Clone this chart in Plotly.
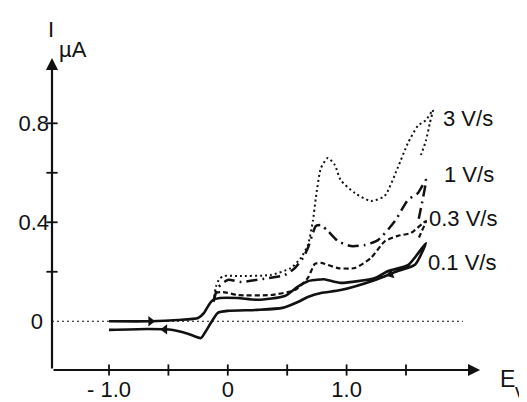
import plotly.graph_objects as go

# ---- data ----
E_3 = [-0.12, -0.10, -0.07, -0.03, 0.08, 0.36, 0.53, 0.615, 0.674, 0.716, 0.741, 0.784, 0.842, 0.90, 0.95,
       1.07, 1.205, 1.32, 1.43, 1.516, 1.60, 1.668, 1.727, 1.70, 1.668, 1.626]
I_3 = [0.08, 0.14, 0.172, 0.183, 0.183, 0.187, 0.215, 0.256, 0.308, 0.405, 0.498, 0.619, 0.66, 0.632, 0.571,
       0.518, 0.486, 0.506, 0.62, 0.72, 0.79, 0.813, 0.854, 0.80, 0.73, 0.672]

E_1 = [-0.12, -0.084, 0.0, 0.11, 0.295, 0.48, 0.564, 0.632, 0.674, 0.716, 0.741, 0.784, 0.842, 0.927, 1.036,
       1.154, 1.264, 1.407, 1.516, 1.60, 1.668, 1.643, 1.60]
I_1 = [0.08, 0.135, 0.167, 0.159, 0.171, 0.187, 0.215, 0.256, 0.296, 0.357, 0.385, 0.389, 0.365, 0.324, 0.304,
       0.308, 0.328, 0.405, 0.49, 0.518, 0.571, 0.498, 0.397]

E_03 = [-0.12, -0.10, -0.04, 0.084, 0.36, 0.564, 0.674, 0.733, 0.784, 0.927, 1.07, 1.205, 1.323, 1.432, 1.542,
        1.668, 1.626, 1.60]
I_03 = [0.08, 0.114, 0.118, 0.106, 0.106, 0.126, 0.175, 0.232, 0.236, 0.215, 0.215, 0.256, 0.324, 0.345, 0.357,
        0.405, 0.357, 0.328]

E_01 = [-1.0, -0.65, -0.42, -0.25, -0.2, -0.16, -0.126, -0.067, 0.084, 0.25, 0.48, 0.59, 0.674, 0.74, 0.81, 0.95,
        1.24, 1.35, 1.52, 1.668, 1.575, 1.43, 1.24, 0.95, 0.784, 0.674, 0.59, 0.46, 0.25, 0.0, -0.084, -0.143,
        -0.194, -0.227, -0.337, -0.463, -0.674, -1.0]
I_01 = [0.0, 0.0, 0.005, 0.013, 0.034, 0.066, 0.086, 0.094, 0.094, 0.087, 0.102, 0.14, 0.162, 0.167, 0.17, 0.155,
        0.175, 0.203, 0.228, 0.316, 0.228, 0.203, 0.167, 0.126, 0.114, 0.098, 0.078, 0.054, 0.046, 0.042, 0.034,
        -0.007, -0.047, -0.068, -0.05, -0.035, -0.031, -0.035]

arrow_E = [-0.65, -0.53, 1.37]
arrow_I = [0.0, -0.033, 0.19]
arrow_symbol = ["triangle-right", "triangle-left", "triangle-left"]
arrow_angle = [0, 0, -20]

series_labels = ["3 V/s", "1 V/s", "0.3 V/s", "0.1 V/s"]

x_ticks = [-1.0, -0.5, 0.0, 0.5, 1.0, 1.5]
x_ticklabels_vals = [-1.0, 0.0, 1.0]
x_ticklabels = ["- 1.0", "0", "1.0"]
y_ticks = [0.2, 0.4, 0.6, 0.8]
y_ticklabels_vals = [0.0, 0.4, 0.8]
y_ticklabels = ["0\u00a0", "0.4", "0.8"]

zero_E = [-1.48, 1.98]
zero_I = [0.0, 0.0]

# ---- figure ----
W, H = 527, 402
XMIN, XMAX = -1.48, 2.586
YMIN, YMAX = -0.197, 1.266
FONT = "Liberation Sans, Arial, sans-serif"
BLACK = "#111111"

fig = go.Figure()

fig.add_trace(go.Scatter(x=zero_E, y=zero_I, mode="lines",
                         line=dict(color=BLACK, width=1, dash="2px,3px"), hoverinfo="skip"))

fig.add_trace(go.Scatter(x=E_3, y=I_3, mode="lines", name=series_labels[0],
                         line=dict(color=BLACK, width=2, dash="2px,3px", shape="spline", smoothing=0.6)))
fig.add_trace(go.Scatter(x=E_1, y=I_1, mode="lines", name=series_labels[1],
                         line=dict(color=BLACK, width=2.5, dash="11px,5px,2px,5px", shape="spline", smoothing=0.6)))
fig.add_trace(go.Scatter(x=E_03, y=I_03, mode="lines", name=series_labels[2],
                         line=dict(color=BLACK, width=2.2, dash="5px,3px", shape="spline", smoothing=0.6)))
fig.add_trace(go.Scatter(x=E_01, y=I_01, mode="lines", name=series_labels[3],
                         line=dict(color=BLACK, width=2.6, shape="spline", smoothing=0.6)))

fig.add_trace(go.Scatter(x=arrow_E, y=arrow_I, mode="markers",
                         marker=dict(symbol=arrow_symbol, angle=arrow_angle, size=9, color=BLACK),
                         hoverinfo="skip"))

# tick marks crossing the axes
fig.add_trace(go.Scatter(x=x_ticks, y=[YMIN] * len(x_ticks), mode="markers", cliponaxis=False,
                         marker=dict(symbol="line-ns", size=8, line=dict(color=BLACK, width=1.8)),
                         hoverinfo="skip"))
fig.add_trace(go.Scatter(x=[XMIN] * len(y_ticks), y=y_ticks, mode="markers", cliponaxis=False,
                         marker=dict(symbol="line-ew", size=8, line=dict(color=BLACK, width=1.8)),
                         hoverinfo="skip"))

annotations = []
# axis lines with arrow heads
annotations.append(dict(x=2.124, y=YMIN, ax=XMIN, ay=YMIN, xref="x", yref="y", axref="x", ayref="y",
                        text="", showarrow=True, arrowhead=2, arrowsize=1.1, arrowwidth=2.2, arrowcolor=BLACK))
annotations.append(dict(x=XMIN, y=1.064, ax=XMIN, ay=YMIN, xref="x", yref="y", axref="x", ayref="y",
                        text="", showarrow=True, arrowhead=2, arrowsize=1.1, arrowwidth=2.2, arrowcolor=BLACK))

# series labels
label_pos = [(2.02, 0.82), (2.03, 0.595), (1.98, 0.417), (1.975, 0.236)]
for txt, (lx, ly) in zip(series_labels, label_pos):
    annotations.append(dict(x=lx, y=ly, xref="x", yref="y", text=txt, showarrow=False,
                            font=dict(family=FONT, size=22, color=BLACK)))


def paper(px, py):
    return px / W, 1 - py / H


# axis titles (positioned in paper pixels)
for txt, (px, py), sz in [("I", (43, 21), 22), ("µA", (65, 42), 22), ("E", (499, 371), 23), ("v", (512, 383), 20)]:
    xp, yp = paper(px, py)
    annotations.append(dict(x=xp, y=yp, xref="paper", yref="paper", text=txt, showarrow=False,
                            xanchor="center", yanchor="middle", borderpad=0,
                            font=dict(family=FONT, size=sz, color=BLACK)))

fig.update_layout(
    width=W, height=H,
    margin=dict(l=0, r=0, t=0, b=0),
    paper_bgcolor="white", plot_bgcolor="white",
    showlegend=False,
    annotations=annotations,
    xaxis=dict(domain=[44 / W, 1], range=[XMIN, XMAX], showgrid=False, zeroline=False, showline=False,
               tickmode="array", tickvals=x_ticklabels_vals, ticktext=x_ticklabels, ticks="",
               ticklabelstandoff=4,
               tickfont=dict(family=FONT, size=22, color=BLACK)),
    yaxis=dict(domain=[40 / H, 1], range=[YMIN, YMAX], showgrid=False, zeroline=False, showline=False,
               tickmode="array", tickvals=y_ticklabels_vals, ticktext=y_ticklabels, ticks="",
               ticklabelstandoff=2,
               tickfont=dict(family=FONT, size=22, color=BLACK)),
)

fig.write_html("out.html")
